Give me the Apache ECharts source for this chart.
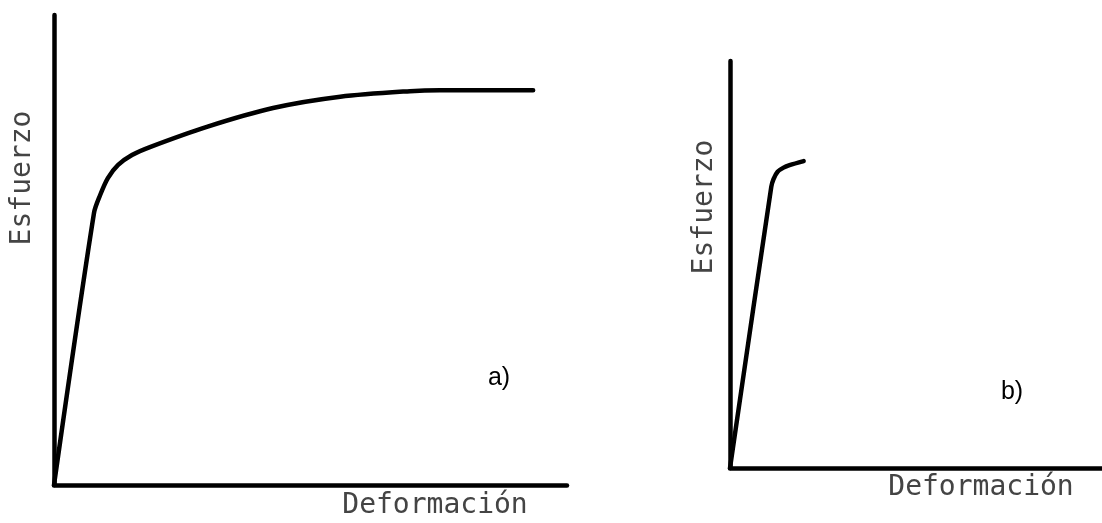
<!DOCTYPE html>
<html>
<head>
<meta charset="utf-8">
<script src="https://cdn.jsdelivr.net/npm/echarts@6/dist/echarts.min.js"></script>
<style>
  html, body { margin: 0; padding: 0; background: #fff; }
  #chart { width: 1102px; height: 523px; }
</style>
</head>
<body>
<div id="chart"></div>
<script>
// curva a) - material ductil (deformacion, esfuerzo en unidades relativas 0-100)
var curvaA = [
  [0, 0], [7.8, 57.9], [9.0, 61.7], [10.5, 65.3], [12.5, 68.1], [15.2, 70.2],
  [18.7, 71.9], [29.8, 76.2], [42.7, 80.2], [55.8, 82.6], [69.4, 83.8],
  [75.2, 84.0], [93.4, 84.0]
];
// curva b) - material fragil
var curvaB = [
  [0, 0], [11.1, 69.1], [11.7, 71.0], [12.8, 72.8], [14.4, 73.8],
  [16.0, 74.4], [19.8, 75.4]
];
var etiquetas = ['a)', 'b)'];
var tituloX = 'Deformación';
var tituloY = 'Esfuerzo';

var myChart = echarts.init(document.getElementById('chart'));

function ejeValor(idx) {
  return {
    type: 'value',
    gridIndex: idx,
    min: 0,
    max: 100,
    axisLine: { show: true, onZero: false, lineStyle: { color: '#000', width: 4.5 } },
    axisTick: { show: false },
    axisLabel: { show: false },
    splitLine: { show: false }
  };
}

var fuenteEje = {
  fontFamily: 'DejaVu Sans Mono',
  fontSize: 28,
  fill: '#444'
};

option = {
  animation: false,
  backgroundColor: '#fff',
  grid: [
    { left: 54, top: 15, right: 535, bottom: 38 },
    { left: 730, top: 61, right: 0, bottom: 55 }
  ],
  xAxis: [ejeValor(0), ejeValor(1)],
  yAxis: [ejeValor(0), ejeValor(1)],
  series: [
    {
      type: 'line',
      xAxisIndex: 0,
      yAxisIndex: 0,
      data: curvaA,
      smooth: 0.3,
      showSymbol: false,
      lineStyle: { color: '#000', width: 4.5, cap: 'round' }
    },
    {
      type: 'line',
      xAxisIndex: 1,
      yAxisIndex: 1,
      data: curvaB,
      smooth: 0.3,
      showSymbol: false,
      lineStyle: { color: '#000', width: 4.5, cap: 'round' }
    }
  ],
  graphic: [
    {
      type: 'text', x: 435, y: 506,
      style: Object.assign({ text: tituloX, align: 'center', verticalAlign: 'middle' }, fuenteEje)
    },
    {
      type: 'text', x: 981, y: 488,
      style: Object.assign({ text: tituloX, align: 'center', verticalAlign: 'middle' }, fuenteEje)
    },
    {
      type: 'text', x: 23, y: 178, rotation: Math.PI / 2,
      style: Object.assign({ text: tituloY, align: 'center', verticalAlign: 'middle' }, fuenteEje)
    },
    {
      type: 'text', x: 705, y: 207, rotation: Math.PI / 2,
      style: Object.assign({ text: tituloY, align: 'center', verticalAlign: 'middle' }, fuenteEje)
    },
    {
      type: 'text', x: 499, y: 378,
      style: { text: etiquetas[0], align: 'center', verticalAlign: 'middle', fontFamily: 'Liberation Sans', fontSize: 25, fill: '#000' }
    },
    {
      type: 'text', x: 1012, y: 392,
      style: { text: etiquetas[1], align: 'center', verticalAlign: 'middle', fontFamily: 'Liberation Sans', fontSize: 25, fill: '#000' }
    }
  ]
};

myChart.setOption(option);
</script>
</body>
</html>
